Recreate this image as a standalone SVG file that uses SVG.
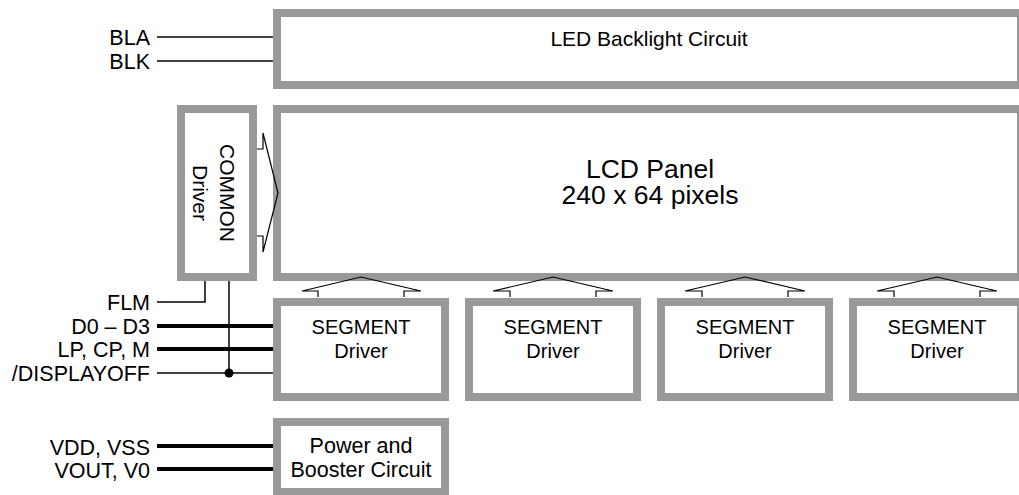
<svg xmlns="http://www.w3.org/2000/svg" width="1019" height="495" viewBox="0 0 1019 495">
<style>
.box{fill:#fff;stroke:#999;stroke-width:8}
.t{font-family:"Liberation Sans",Arial,sans-serif;font-size:20px;fill:#000;text-anchor:middle}
.t21{font-size:21px}
.pw{font-size:21.5px}
.lbl{font-family:"Liberation Sans",Arial,sans-serif;font-size:21.5px;fill:#000;text-anchor:end}
.big{font-size:26.5px}
.w{stroke:#000;stroke-width:1.5;fill:none}
.wb{stroke:#000;stroke-width:4;fill:none}
.ar{stroke:#000;stroke-width:1.2;fill:none;stroke-linejoin:miter}
</style>
<rect width="1019" height="495" fill="#fff"/>
<g id="connectors">
<line class="w" x1="157" y1="37" x2="273" y2="37"/>
<line class="w" x1="157" y1="61" x2="273" y2="61"/>
<polyline class="w" points="157,302 205,302 205,281"/>
<line class="w" x1="229" y1="281" x2="229" y2="373"/>
<line class="wb" x1="157" y1="326" x2="273" y2="326"/>
<line class="wb" x1="157" y1="349" x2="273" y2="349"/>
<line class="w" x1="157" y1="373" x2="273" y2="373"/>
<circle cx="229" cy="373" r="4.5" fill="#000"/>
<line class="wb" x1="157" y1="446" x2="273" y2="446"/>
<line class="wb" x1="157" y1="469" x2="273" y2="469"/>
</g>
<g id="led"><rect class="box" x="277" y="13" width="744" height="72"/><text class="t t21" x="649" y="46">LED Backlight Circuit</text></g>
<g id="common"><rect class="box" x="181" y="109" width="72" height="168"/>
<text class="t t21" transform="translate(220,193) rotate(90)">COMMON</text>
<text class="t t21" transform="translate(193,193) rotate(90)">Driver</text></g>
<g id="lcd"><rect class="box" x="277" y="109" width="744" height="168"/>
<text class="t big" x="650" y="178">LCD Panel</text>
<text class="t big" x="650" y="204">240 x 64 pixels</text></g>
<g id="seg1"><rect class="box" x="277" y="302" width="168" height="95"/><text class="t" x="361" y="334">SEGMENT</text><text class="t" x="361" y="358">Driver</text></g>
<g id="seg2"><rect class="box" x="469" y="302" width="168" height="95"/><text class="t" x="553" y="334">SEGMENT</text><text class="t" x="553" y="358">Driver</text></g>
<g id="seg3"><rect class="box" x="661" y="302" width="168" height="95"/><text class="t" x="745" y="334">SEGMENT</text><text class="t" x="745" y="358">Driver</text></g>
<g id="seg4"><rect class="box" x="853" y="302" width="168" height="95"/><text class="t" x="937" y="334">SEGMENT</text><text class="t" x="937" y="358">Driver</text></g>
<g id="power"><rect class="box" x="277" y="422" width="168" height="70"/><text class="t pw" x="361" y="453">Power and</text><text class="t pw" x="361" y="477">Booster Circuit</text></g>
<g id="arrows">
<polyline class="ar" points="257,149 263,149 263,133 278,193 263,252 263,236 257,236"/>
<polyline class="ar" points="318,297 318,291 302,291 361,277 421,291 404,291 404,297"/>
<polyline class="ar" points="510,297 510,291 493,291 553,277 613,291 596,291 596,297"/>
<polyline class="ar" points="702,297 702,291 685,291 745,277 805,291 788,291 788,297"/>
<polyline class="ar" points="894,297 894,291 877,291 937,277 997,291 980,291 980,297"/>
</g>
<g id="labels">
<text class="lbl" x="150" y="45">BLA</text>
<text class="lbl" x="150" y="69">BLK</text>
<text class="lbl" x="150" y="310">FLM</text>
<text class="lbl" x="150" y="334">D0 – D3</text>
<text class="lbl" x="150" y="357">LP, CP, M</text>
<text class="lbl" x="150" y="381">/DISPLAYOFF</text>
<text class="lbl" x="150" y="455">VDD, VSS</text>
<text class="lbl" x="150" y="478">VOUT, V0</text>
</g>
</svg>
